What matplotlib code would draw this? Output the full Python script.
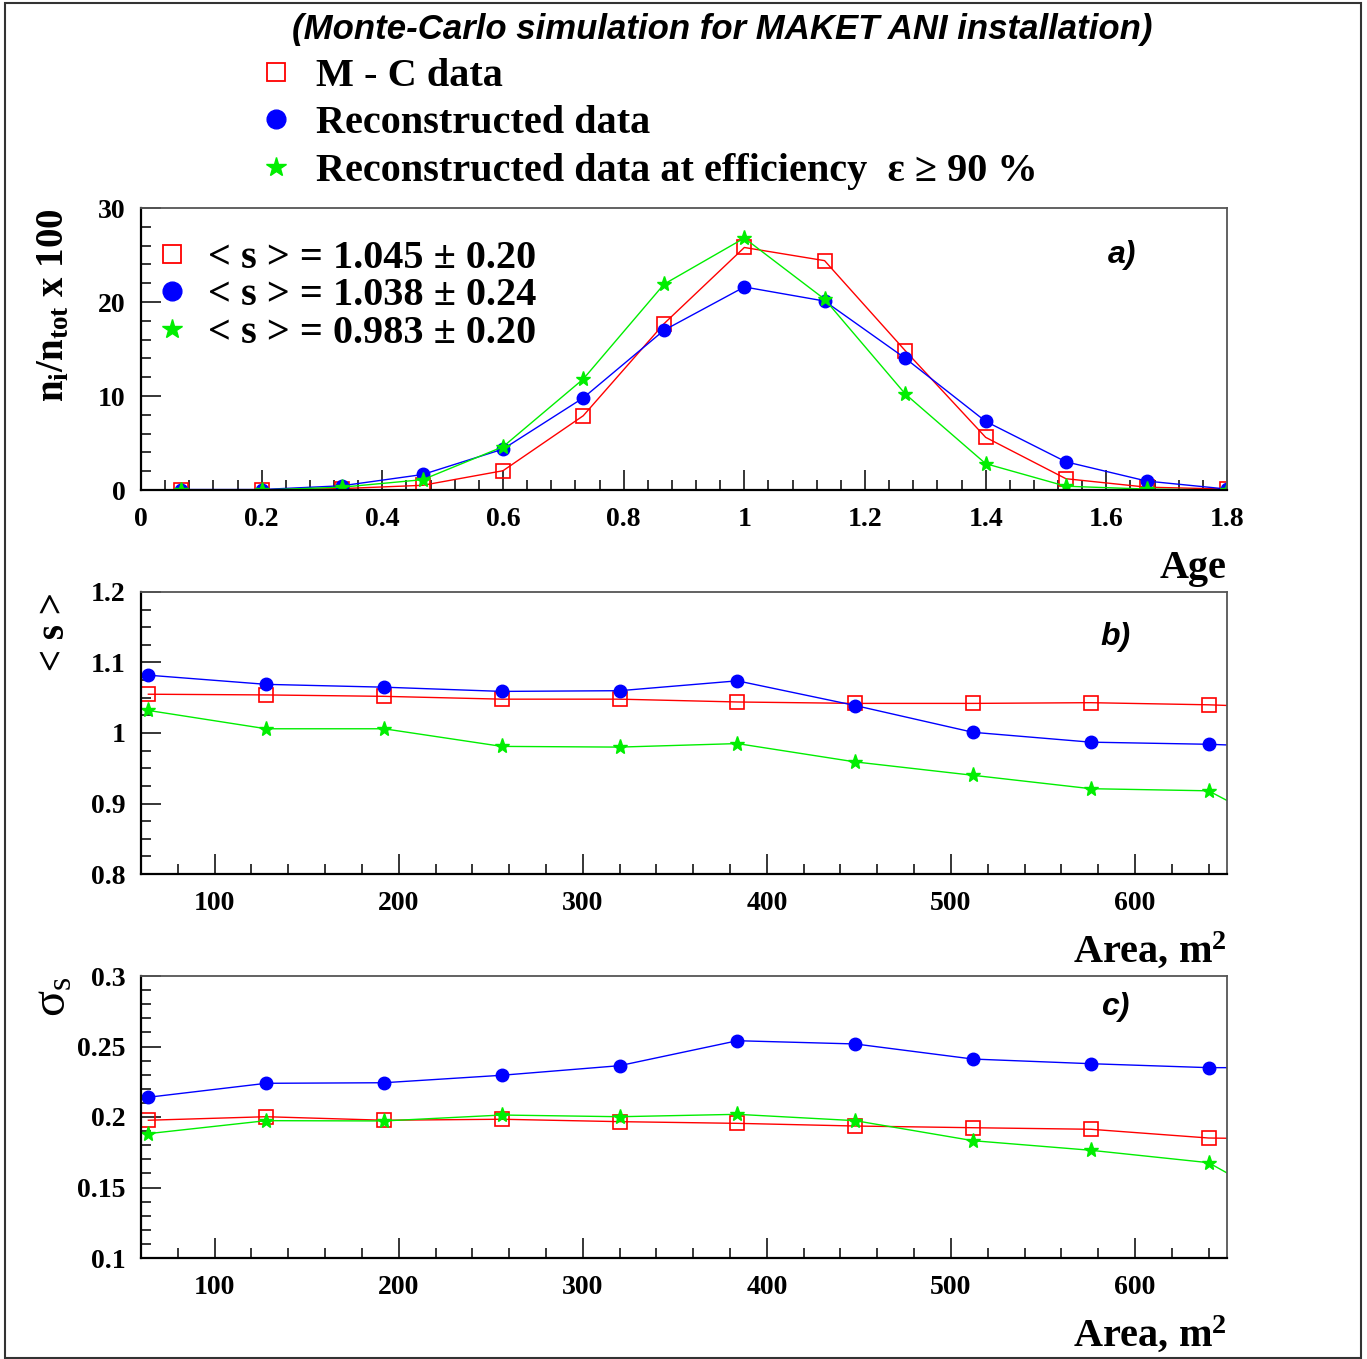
import matplotlib
matplotlib.use("Agg")
import matplotlib.pyplot as plt
from matplotlib.lines import Line2D
from matplotlib.patches import Rectangle
from matplotlib.ticker import MultipleLocator, FuncFormatter

SERIF = "Liberation Serif"
SANS = "Liberation Sans"

plt.rcParams["font.family"] = [SERIF, "DejaVu Serif"]
plt.rcParams["font.weight"] = "bold"
plt.rcParams["mathtext.fontset"] = "custom"
plt.rcParams["mathtext.rm"] = "Liberation Serif:bold"
plt.rcParams["mathtext.it"] = "Liberation Serif:italic:bold"
plt.rcParams["mathtext.bf"] = "Liberation Serif:bold"
plt.rcParams["mathtext.sf"] = "Liberation Serif:normal"

# ---- panel a: age distribution (n_i / n_tot x 100) ----
age = [0.067, 0.2, 0.333, 0.467, 0.6, 0.733, 0.867, 1.0, 1.133, 1.267, 1.4, 1.533, 1.667, 1.8]
frac_mc = [0.0, 0.0, 0.15, 0.5, 2.05, 7.9, 17.7, 25.8, 24.4, 14.8, 5.6, 1.2, 0.3, 0.1]
frac_rec = [0.05, 0.05, 0.45, 1.65, 4.35, 9.8, 17.0, 21.6, 20.1, 14.0, 7.3, 3.0, 0.95, 0.1]
frac_eff = [0.0, 0.0, 0.3, 1.1, 4.6, 11.8, 21.9, 26.8, 20.3, 10.2, 2.8, 0.4, 0.1, 0.0]

# ---- panels b, c: mean age and its spread vs. area ----
area = [64, 128, 192, 256, 320, 384, 448, 512, 576, 640, 704]
s_mc = [1.055, 1.054, 1.052, 1.048, 1.048, 1.044, 1.042, 1.042, 1.043, 1.040, 1.034]
s_rec = [1.082, 1.069, 1.065, 1.059, 1.060, 1.074, 1.039, 1.001, 0.987, 0.984, 0.978]
s_eff = [1.032, 1.006, 1.006, 0.981, 0.980, 0.985, 0.959, 0.940, 0.921, 0.918, 0.830]

sig_mc = [0.1977, 0.2002, 0.1977, 0.1984, 0.1967, 0.1955, 0.1936, 0.1924, 0.1913, 0.1851, 0.184]
sig_rec = [0.214, 0.2239, 0.2243, 0.2296, 0.2364, 0.2541, 0.2518, 0.2411, 0.2378, 0.2350, 0.235]
sig_eff = [0.1882, 0.1974, 0.1972, 0.2014, 0.2002, 0.2019, 0.1974, 0.1832, 0.1764, 0.1676, 0.121]

series_labels = ["M - C data", "Reconstructed data",
                 "Reconstructed data at efficiency  \u03b5 \u2265 90 %"]
mean_labels = ["< s > = 1.045 \u00b1 0.20", "< s > = 1.038 \u00b1 0.24",
               "< s > = 0.983 \u00b1 0.20"]

RED, BLUE, GREEN = "#ff0000", "#0000ff", "#00ee00"
styles = [
    dict(color=RED, marker="s", mfc="none", mec=RED, ms=9.5, mew=1.2, lw=1.0),
    dict(color=BLUE, marker="o", mfc=BLUE, mec=BLUE, ms=9.0, lw=1.0),
    dict(color=GREEN, marker="*", mfc=GREEN, mec=GREEN, ms=11, lw=1.0),
]
leg_styles = [
    dict(marker="s", mfc="none", mec=RED, ms=13.5, mew=1.3),
    dict(marker="o", mfc=BLUE, mec=BLUE, ms=13.5),
    dict(marker="*", mfc=GREEN, mec=GREEN, ms=15),
]

W, H = 1367, 1359
fig = plt.figure(figsize=(W / 100, H / 100), dpi=100)

def frame(ax, xmaj, xmin, ymaj, ymin):
    ax.xaxis.set_major_locator(MultipleLocator(xmaj))
    ax.xaxis.set_minor_locator(MultipleLocator(xmin))
    ax.yaxis.set_major_locator(MultipleLocator(ymaj))
    ax.yaxis.set_minor_locator(MultipleLocator(ymin))
    fmt = FuncFormatter(lambda v, p: "%g" % round(v, 6))
    ax.xaxis.set_major_formatter(fmt)
    ax.yaxis.set_major_formatter(fmt)
    ax.tick_params(which="both", direction="in", top=False, right=False,
                   width=1.1, color="black")
    ax.tick_params(which="major", length=14.5)
    ax.tick_params(which="minor", length=7.2)
    ax.tick_params(axis="x", which="major", labelsize=20, pad=12)
    ax.tick_params(axis="y", which="major", labelsize=20, pad=11)
    for lab in ax.get_xticklabels() + ax.get_yticklabels():
        lab.set_fontweight("bold")
    for side in ("left", "bottom"):
        ax.spines[side].set_linewidth(1.6)
        ax.spines[side].set_color("black")
    for side in ("top", "right"):
        ax.spines[side].set_linewidth(1.3)
        ax.spines[side].set_color("#555555")

def axes_at(top_px, bottom_px):
    left, right = 141, 1227
    return fig.add_axes([left / W, 1 - bottom_px / H, (right - left) / W,
                         (bottom_px - top_px) / H])

label_font = dict(fontsize=29, fontweight="bold", family=SERIF)
panel_font = dict(fontsize=23, family=SANS, fontweight="bold", style="italic",
                  ha="center", va="center")

# panel a
axa = axes_at(208, 490)
for ys, st in zip([frac_mc, frac_rec, frac_eff], styles):
    axa.plot(age, ys, **st)
axa.set_xlim(0, 1.8)
axa.set_ylim(0, 30)
frame(axa, 0.2, 0.04, 10, 2)
axa.set_xlabel("Age", loc="right", **label_font)
axa.xaxis.set_label_coords(1.0, -0.212)
axa.set_ylabel(r"$\mathbf{n_i/n_{tot}}$ x 100", loc="top", fontsize=28,
               fontweight="bold", family=SERIF)
axa.yaxis.set_label_coords(-0.063, 1.0)
axa.text(0.903, 0.833, "a)", transform=axa.transAxes, **panel_font)
inner = [Line2D([], [], ls="none", **st) for st in leg_styles]
axa.legend(inner, mean_labels, loc="upper left", bbox_to_anchor=(0.0101, 0.888),
           frameon=False, prop=dict(family=SERIF, weight="bold", size=29),
           handlelength=1.0, handletextpad=0.4, labelspacing=0.01,
           borderpad=0, borderaxespad=0)

# panel b
axb = axes_at(592, 874)
for ys, st in zip([s_mc, s_rec, s_eff], styles):
    axb.plot(area, ys, **st)
axb.set_xlim(60, 650)
axb.set_ylim(0.8, 1.2)
frame(axb, 100, 20, 0.1, 0.025)
axb.set_xlabel("Area, m$^2$", loc="right", **label_font)
axb.xaxis.set_label_coords(1.0, -0.2)
axb.set_ylabel("< s >", loc="top", fontsize=28, fontweight="bold", family=SERIF)
axb.yaxis.set_label_coords(-0.063, 1.0)
axb.text(0.897, 0.840, "b)", transform=axb.transAxes, **panel_font)

# panel c
axc = axes_at(976, 1258)
for ys, st in zip([sig_mc, sig_rec, sig_eff], styles):
    axc.plot(area, ys, **st)
axc.set_xlim(60, 650)
axc.set_ylim(0.1, 0.3)
frame(axc, 100, 20, 0.05, 0.01)
axc.set_xlabel("Area, m$^2$", loc="right", **label_font)
axc.xaxis.set_label_coords(1.0, -0.2)
axc.set_ylabel(r"$\mathsf{\sigma_s}$", loc="top", fontsize=35, fontweight="normal")
axc.yaxis.set_label_coords(-0.06, 1.0)
axc.text(0.897, 0.890, "c)", transform=axc.transAxes, **panel_font)

# figure-level legend and title
top = [Line2D([], [], ls="none", **st) for st in leg_styles]
fig.legend(top, series_labels, loc="upper left", bbox_to_anchor=(256 / W, 1 - 58 / H),
           frameon=False, prop=dict(family=SERIF, weight="bold", size=29),
           handlelength=1.0, handletextpad=0.5, labelspacing=0.25,
           borderpad=0, borderaxespad=0)
fig.text(722 / W, 1 - 29 / H, "(Monte-Carlo simulation for MAKET ANI installation)",
         fontsize=25, family=SANS, fontweight="bold", style="italic",
         ha="center", va="center")

fig.patches.append(Rectangle((5 / W, 1 / H), (1361 - 5) / W, 1 - 4 / H,
                             transform=fig.transFigure, fill=False,
                             edgecolor="#333333", lw=1.5))

fig.savefig("out.png", dpi=100)
